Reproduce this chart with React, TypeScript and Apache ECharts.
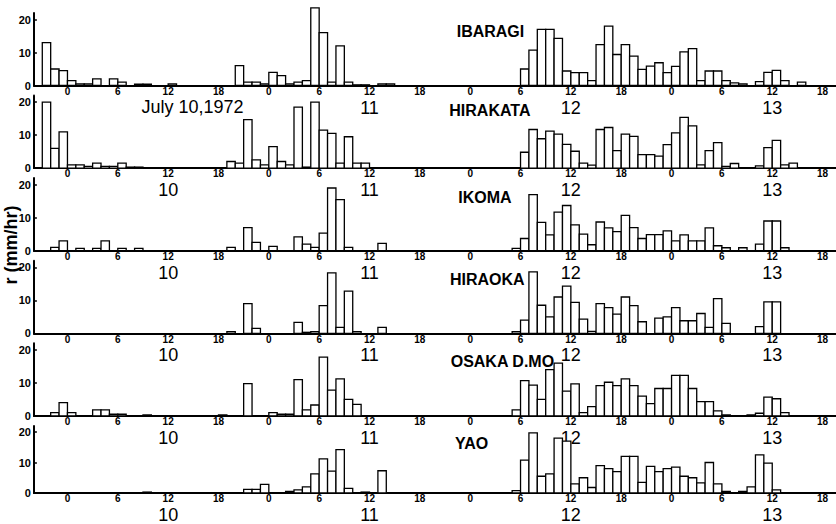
import React, { useEffect, useRef } from "react";
import * as echarts from "echarts";

// Hourly rainfall (mm/hr); first value is the hour 21-22 of July 9 (hour -3 relative to July 10, 00h)
const START_HOUR = -3;

const stationNames = ["IBARAGI", "HIRAKATA", "IKOMA", "HIRAOKA", "OSAKA D.MO", "YAO"];

const ibaragi = [
  13, 5, 4.5,
  1.5, 0.5, 0.5, 2, 0, 2, 1, 0, 0.4, 0.4, 0, 0, 0.5, 0, 0, 0, 0, 0, 0, 0, 6, 1, 1, 0.5,
  4, 3, 0.5, 1, 1.5, 23.5, 16, 1, 12, 1, 0.2, 0.2, 0, 0.5, 0.5, 0, 0, 0, 0, 0, 0, 0, 0, 0,
  0, 0, 0, 0, 0, 0, 5, 10.7, 17, 17, 14.3, 4.4, 3.9, 3.9, 1.5, 12.4, 18, 9.4, 12.4, 8.9, 4.9, 5.9, 6.9, 3.9,
  5.8, 10.2, 11.2, 1.5, 4.4, 4.4, 1.5, 0.8, 0.5, 0, 1.2, 4, 4.6, 1.5, 0, 1, 0,
];

const hirakata = [
  20, 6, 11,
  1, 1, 0.5, 1.5, 0.5, 0.5, 1.5, 0.3, 0.3, 0, 0, 0, 0, 0, 0, 0, 0, 0, 0, 2, 1.5, 14.7, 2.5, 1,
  6.5, 2, 1, 18.5, 0.3, 20, 11.5, 10.5, 1.5, 9.5, 1.5, 1.5, 0, 0, 0, 0, 0, 0, 0, 0, 0, 0, 0, 0,
  0, 0, 0, 0, 0, 0, 4.8, 11.7, 8.9, 11.2, 10.3, 7.2, 5.1, 1.5, 0.9, 11.7, 12.3, 5.3, 10.3, 9.6, 4.1, 4.1, 3.6, 7.1,
  10.7, 15.4, 12.8, 1, 5.3, 7.7, 0.5, 1.4, 0, 0, 0.7, 6.2, 8.4, 1, 1.5, 0, 0,
];

const ikoma = [
  0, 1, 3,
  0, 0.7, 0, 0.7, 3, 0, 0.7, 0, 0.7, 0, 0, 0, 0, 0, 0, 0, 0, 0, 0, 1, 0, 7, 2.5, 0,
  1.3, 0, 0, 4.2, 2, 1, 5.3, 19, 15.5, 1, 0, 0, 0, 2.2, 0, 0, 0, 0, 0, 0, 0, 0, 0, 0,
  0, 0, 0, 0, 0, 0.7, 3.7, 17, 8.6, 4.8, 11.7, 13.7, 7.8, 5, 1.8, 8.7, 6.9, 5.8, 10.7, 7, 3.7, 4.9, 4.9, 6,
  3, 4.8, 3, 3, 6.9, 1.5, 0.9, 0, 0.9, 0, 2, 9, 9, 0.9, 0, 0, 0,
];

const hiraoka = [
  0, 0, 0,
  0, 0, 0, 0, 0, 0, 0, 0, 0, 0, 0, 0, 0, 0, 0, 0, 0, 0, 0, 0.5, 0, 9, 1.5, 0,
  0, 0, 0, 3.3, 0.3, 0.5, 8.4, 18.3, 1.8, 12.8, 0.5, 0, 0, 1.8, 0, 0, 0, 0, 0, 0, 0, 0, 0, 0,
  0, 0, 0, 0, 0, 0.5, 4, 18.6, 8.5, 5, 11, 14.3, 9.4, 4.3, 0.6, 9, 7.8, 5.8, 11, 8.4, 3.5, 0, 4.6, 5,
  7.8, 3.8, 3.8, 6, 1.8, 10.5, 3, 0, 0, 0, 2, 9.5, 9.5, 0, 0, 0, 0,
];

const osaka = [
  0, 1, 4,
  1, 0, 0, 1.8, 1.8, 0.5, 0.5, 0, 0, 0.3, 0, 0, 0, 0, 0, 0, 0, 0, 0.3, 0, 0, 9.8, 0, 0,
  1, 0.5, 0.5, 11, 1.8, 3.3, 17.8, 7.8, 11.2, 5, 3.5, 0, 0, 0, 0, 0, 0, 0, 0, 0, 0, 0, 0, 0,
  0, 0, 0, 0, 0, 1.8, 10.7, 9.3, 5, 14, 16, 7.5, 9.7, 1, 2.8, 9.2, 10.2, 9.2, 11.2, 9.2, 6, 3.7, 8.3, 8.3,
  12.3, 12.3, 8.3, 4.3, 4.3, 1.5, 0.3, 0, 0, 0.3, 0.8, 5.7, 5.2, 1, 0, 0, 0,
];

const yao = [
  0, 0, 0,
  0, 0, 0, 0, 0, 0, 0, 0, 0, 0.3, 0, 0, 0, 0, 0, 0, 0, 0, 0, 0, 0, 1.2, 1.2, 2.8,
  0, 0, 0.5, 1, 2, 6.3, 11.2, 7.2, 14.2, 1.5, 0, 0.3, 0, 7.3, 0, 0, 0, 0, 0, 0, 0, 0, 0, 0,
  0, 0, 0, 0, 0, 0.8, 10.8, 19.7, 5.5, 6.3, 18, 17, 3, 5, 1.8, 9, 8, 7, 12, 12, 3.5, 8.7, 7, 8,
  8.5, 5.5, 5, 3.3, 10, 3, 0.5, 0, 0.5, 2, 12.5, 9.8, 1, 0, 0, 0, 0,
];

const stationValues = [ibaragi, hirakata, ikoma, hiraoka, osaka, yao];

const xTickHours = [0, 6, 12, 18, 24, 30, 36, 42, 48, 54, 60, 66, 72, 78, 84, 90];
const dayLabelHours = [12, 36, 60, 84];
const dayLabels = ["10", "11", "12", "13"];
const dateTitle = "July 10,1972";
const yTickValues = [0, 10, 20];
const yAxisTitle = "r (mm/hr)";

// layout
const W = 836;
const H = 524;
const X_MIN = -4;
const X_MAX = 91.6;
const LEFT = 33.9;
const BASE0 = 85.5;
const STEP = 82.6;
const Y_MAX = 22;
const PANEL_H = 72.6;
const FONT = "'Liberation Sans', Arial, sans-serif";
const namePos = [
  [456.7, -54.5],
  [449.3, -57.6],
  [458.3, -53],
  [450, -53.8],
  [450.7, -54.4],
  [455, -55.5],
];

const renderItem = (params: any, api: any) => {
  const h = api.value(0);
  const v = api.value(1);
  const p0 = api.coord([h, v]);
  const p1 = api.coord([h + 1, 0]);
  return {
    type: "rect",
    shape: { x: p0[0], y: p0[1], width: p1[0] - p0[0], height: p1[1] - p0[1] },
    style: { fill: "#fff", stroke: "#000", lineWidth: 1.3 },
  };
};

function buildOption() {
  const grid: any[] = [];
  const xAxis: any[] = [];
  const yAxis: any[] = [];
  const series: any[] = [];
  const graphic: any[] = [];

  stationNames.forEach((name, i) => {
    const base = BASE0 + i * STEP;
    grid.push({ left: LEFT, right: 0, top: base - PANEL_H, height: PANEL_H });
    xAxis.push({
      type: "value",
      gridIndex: i,
      min: X_MIN,
      max: X_MAX,
      position: "bottom",
      axisLine: { show: true, onZero: false, lineStyle: { color: "#000", width: 2 } },
      axisTick: { show: false },
      splitLine: { show: false },
      axisLabel: {
        customValues: xTickHours,
        formatter: (v: number) => String(((v % 24) + 24) % 24),
        fontSize: 10,
        lineHeight: 10,
        fontWeight: "bold",
        color: "#000",
        margin: 0.8,
        fontFamily: FONT,
      },
    });
    const dh = i === 0 ? dayLabelHours.slice(1) : dayLabelHours;
    xAxis.push({
      type: "value",
      gridIndex: i,
      min: X_MIN,
      max: X_MAX,
      position: "bottom",
      axisLine: { show: false, onZero: false },
      axisTick: { show: false },
      splitLine: { show: false },
      axisLabel: {
        customValues: dh,
        formatter: (v: number) => dayLabels[dayLabelHours.indexOf(v)] ?? "",
        fontSize: 18,
        lineHeight: 16,
        color: "#000",
        margin: 14,
        fontFamily: FONT,
      },
    });
    yAxis.push({
      type: "value",
      gridIndex: i,
      min: 0,
      max: Y_MAX,
      axisLine: { show: true, onZero: false, lineStyle: { color: "#000", width: 2 } },
      axisTick: {
        show: true,
        inside: true,
        length: 3,
        customValues: [10, 20],
        lineStyle: { color: "#000", width: 1.5 },
      },
      splitLine: { show: false },
      axisLabel: {
        customValues: yTickValues,
        fontSize: 11,
        lineHeight: 10,
        fontWeight: "bold",
        color: "#000",
        margin: 3,
        fontFamily: FONT,
      },
    });
    const data = stationValues[i]
      .map((v, k) => [START_HOUR + k, v])
      .filter((d) => d[1] > 0);
    series.push({
      type: "custom",
      name,
      xAxisIndex: 2 * i,
      yAxisIndex: i,
      renderItem,
      data,
      encode: { x: 0, y: 1 },
      clip: false,
    });
    graphic.push({
      type: "text",
      x: namePos[i][0],
      y: base + namePos[i][1],
      style: {
        text: name,
        fill: "#000",
        fontSize: 16,
        lineHeight: 13,
        fontWeight: "bold",
        fontFamily: FONT,
        align: "left",
        verticalAlign: "middle",
      },
    });
  });

  graphic.push({
    type: "text",
    x: 192.5,
    y: 107,
    style: {
      text: dateTitle,
      fill: "#000",
      fontSize: 18,
      lineHeight: 16,
      fontFamily: FONT,
      align: "center",
      verticalAlign: "middle",
    },
  });
  graphic.push({
    type: "text",
    x: 11,
    y: 245,
    rotation: Math.PI / 2,
    style: {
      text: yAxisTitle,
      fill: "#000",
      fontSize: 18,
      lineHeight: 15,
      fontWeight: "bold",
      fontFamily: FONT,
      align: "center",
      verticalAlign: "middle",
    },
  });

  return {
    animation: false,
    backgroundColor: "#fff",
    textStyle: { fontFamily: FONT },
    grid,
    xAxis,
    yAxis,
    series,
    graphic,
  };
}

export default function App() {
  const ref = useRef<HTMLDivElement>(null);
  useEffect(() => {
    if (!ref.current) return;
    const chart = echarts.init(ref.current, undefined, { renderer: "svg" });
    chart.setOption(buildOption() as any);
    return () => chart.dispose();
  }, []);
  return (
    <div
      ref={ref}
      style={{ position: "fixed", left: 0, top: 0, width: W, height: H, background: "#fff" }}
    />
  );
}
